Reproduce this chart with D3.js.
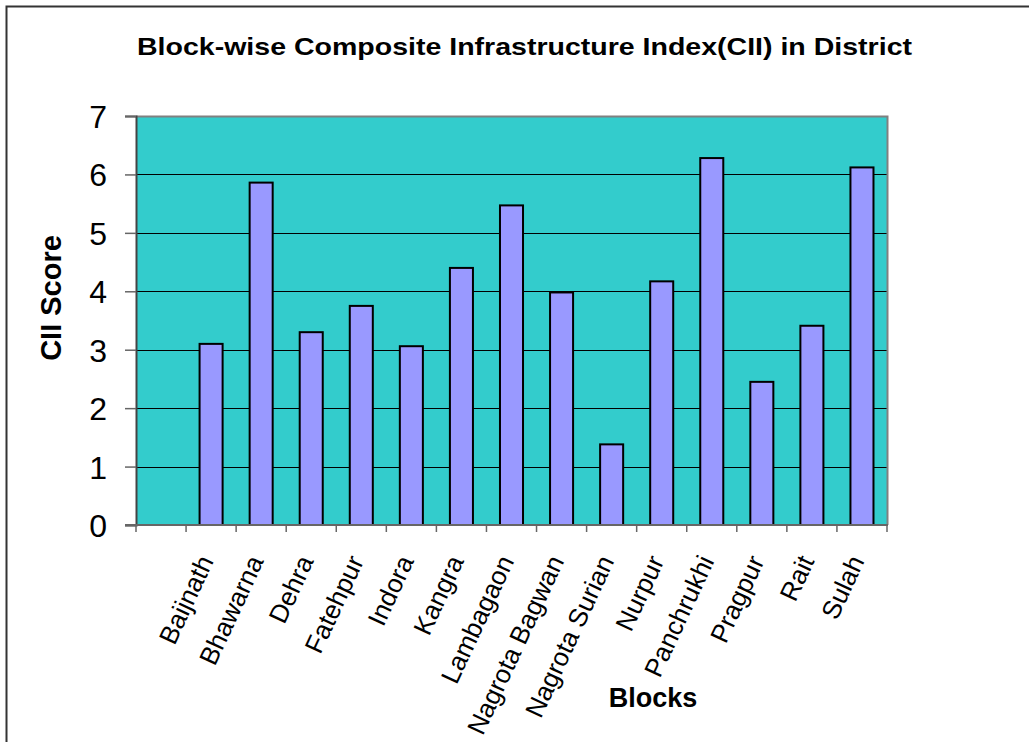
<!DOCTYPE html>
<html>
<head>
<meta charset="utf-8">
<script src="https://cdn.jsdelivr.net/npm/d3@7"></script>
<style>
  html, body { margin: 0; padding: 0; background: #fff; }
  svg { display: block; font-family: Arial, "Liberation Sans", sans-serif; }
</style>
</head>
<body>
<svg id="chart" width="1029" height="742"></svg>
<script>
// ---- data ----
const categories = ["", "Baijnath", "Bhawarna", "Dehra", "Fatehpur", "Indora", "Kangra", "Lambagaon",
  "Nagrota Bagwan", "Nagrota Surian", "Nurpur", "Panchrukhi", "Pragpur", "Rait", "Sulah"];
const ciiScores = [null, 3.10, 5.86, 3.30, 3.75, 3.06, 4.40, 5.47, 3.98, 1.38, 4.17, 6.28, 2.45, 3.41, 6.12];
const yTicks = [0, 1, 2, 3, 4, 5, 6, 7];
const titleText = "Block-wise Composite Infrastructure Index(CII) in District";
const yTitle = "CII Score";
const xTitle = "Blocks";

// ---- layout ----
const svg = d3.select("#chart");
const plotL = 136, plotR = 887, plotT = 116, plotB = 525;

svg.append("rect").attr("x", 0).attr("y", 0).attr("width", 1029).attr("height", 742).attr("fill", "#fff");
svg.append("rect").attr("x", 6.5).attr("y", 6.5).attr("width", 1040).attr("height", 760)
  .attr("fill", "none").attr("stroke", "#333").attr("stroke-width", 2);

const x = d3.scaleBand().domain(categories).range([plotL, plotR]).paddingInner(0.54).paddingOuter(0.27);
const y = d3.scaleLinear().domain([0, 7]).range([plotB, plotT]);

// plot background
svg.append("rect").attr("x", plotL).attr("y", plotT).attr("width", plotR - plotL).attr("height", plotB - plotT)
  .attr("fill", "#33CCCC");

// gridlines
svg.append("g").selectAll("line").data(yTicks.filter(d => d > 0 && d < 7)).join("line")
  .attr("x1", plotL).attr("x2", plotR)
  .attr("y1", d => Math.round(y(d)) + 0.5).attr("y2", d => Math.round(y(d)) + 0.5)
  .attr("stroke", "#000").attr("stroke-width", 1);

// plot frame top/right (gray)
svg.append("path")
  .attr("d", `M${plotL},${plotT + 0.5}H${plotR + 0.5}V${plotB}`)
  .attr("fill", "none").attr("stroke", "#808080").attr("stroke-width", 2);

// bars
svg.append("g").selectAll("rect").data(categories.map((c, i) => ({ c, v: ciiScores[i] })).filter(d => d.v != null))
  .join("rect")
  .attr("x", d => x(d.c)).attr("width", x.bandwidth())
  .attr("y", d => y(d.v)).attr("height", d => y(0) - y(d.v))
  .attr("fill", "#9999FF").attr("stroke", "#000").attr("stroke-width", 2);

// y axis
const yAxis = d3.axisLeft(y).tickValues(yTicks).tickSize(11).tickPadding(18).tickFormat(d3.format("d"));
const gy = svg.append("g").attr("transform", `translate(${plotL},0)`).call(yAxis);
gy.select(".domain").attr("stroke", "#444").attr("stroke-width", 2);
gy.selectAll(".tick line").attr("stroke", "#666").attr("stroke-width", 1.5);
gy.selectAll(".tick text").attr("font-size", 32).attr("fill", "#000")
  .attr("font-family", "Arial, 'Liberation Sans', sans-serif").attr("dy", "0.36em");

// x axis
svg.append("line").attr("x1", plotL - 11).attr("x2", plotR + 1).attr("y1", plotB).attr("y2", plotB)
  .attr("stroke", "#666").attr("stroke-width", 2);
const step = x.step();
const boundaries = d3.range(categories.length + 1).map(i => plotL + i * step);
svg.append("g").selectAll("line").data(boundaries).join("line")
  .attr("x1", d => d).attr("x2", d => d).attr("y1", plotB).attr("y2", plotB + 7)
  .attr("stroke", "#666").attr("stroke-width", 1.5);

// category labels
svg.append("g").selectAll("text").data(categories.filter(c => c !== "")).join("text")
  .attr("transform", d => `translate(${x(d) + x.bandwidth() / 2 + 3},${561}) rotate(-65)`)
  .attr("text-anchor", "end").attr("font-size", 26).attr("fill", "#000")
  .text(d => d);

// titles
svg.append("text").attr("x", 524.5).attr("y", 55).attr("text-anchor", "middle")
  .attr("font-size", 24).attr("font-weight", "bold").attr("textLength", 775).attr("lengthAdjust", "spacingAndGlyphs")
  .text(titleText);
svg.append("text").attr("transform", "translate(61,298) rotate(-90)").attr("text-anchor", "middle")
  .attr("font-size", 29).attr("font-weight", "bold").text(yTitle);
svg.append("text").attr("x", 653).attr("y", 707).attr("text-anchor", "middle")
  .attr("font-size", 27).attr("font-weight", "bold").text(xTitle);
</script>
</body>
</html>
